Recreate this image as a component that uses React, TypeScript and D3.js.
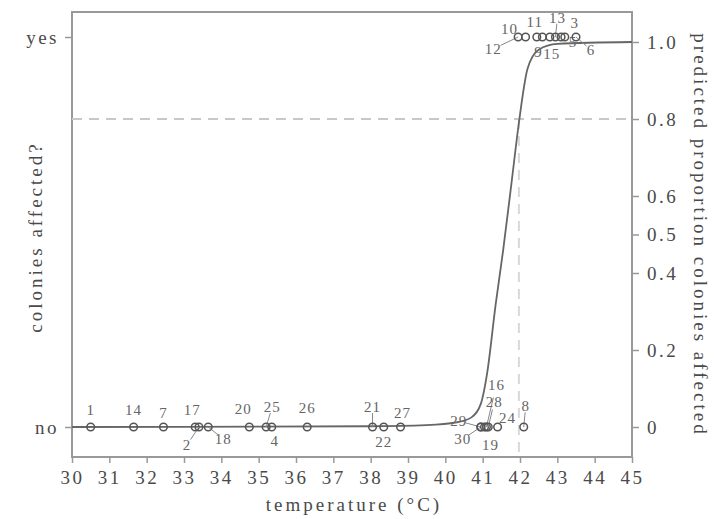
import React, { useEffect, useRef } from 'react';
import * as d3 from 'd3';

// colonies: id, temperature at which observed, affected (0 = no, 1 = yes)
const colonyIds = [1, 14, 7, 17, 2, 18, 20, 25, 4, 26, 21, 22, 27, 29, 30, 19, 16, 28, 24, 8,
    12, 10, 11, 9, 15, 13, 5, 3, 6];
const colonyTemps = [30.5, 31.65, 32.45, 33.3, 33.4, 33.65, 34.75, 35.2, 35.35, 36.3, 38.05, 38.35, 38.8,
    40.95, 40.95, 41.05, 41.1, 41.15, 41.4, 42.1,
    41.95, 42.15, 42.45, 42.6, 42.8, 42.95, 43.1, 43.2, 43.5];
const colonyAffected = [0, 0, 0, 0, 0, 0, 0, 0, 0, 0, 0, 0, 0, 0, 0, 0, 0, 0, 0, 0,
    1, 1, 1, 1, 1, 1, 1, 1, 1];

// fitted curve
const curveTemps = [30, 38, 39.5, 40.3, 40.7, 40.95, 41.12, 41.35, 41.55, 41.78, 41.97, 42.2, 42.5, 43, 45];
const curveProps = [0, 0.002, 0.005, 0.012, 0.025, 0.06, 0.14, 0.32, 0.46, 0.64, 0.79, 0.93, 0.98, 0.995, 1.0];

const xTicks = d3.range(30, 46);
const rightTicks = [0, 0.2, 0.4, 0.5, 0.6, 0.8, 1.0];
const threshold = 0.8;
const thresholdTemp = 41.97;

// label placement (layout only)
const labelOffsets: Record<number, [number, number]> = {
    1: [0, -17], 14: [0, -17], 7: [0, -14], 17: [-3, -17], 2: [-12, 18], 18: [15, 12],
    20: [-6, -18], 25: [6, -20], 4: [3, 14], 26: [0, -19], 21: [0, -20], 22: [0, 15], 27: [2, -14],
    29: [-22, -6], 30: [-18, 12], 19: [6, 18], 16: [10, -42], 28: [6, -25], 24: [10, -9], 8: [2, -21],
    12: [-25, 12], 10: [-16, -8], 11: [-2, -15], 9: [-4, 15], 15: [2, 17], 13: [2, -19],
    5: [12, 5], 3: [10, -14], 6: [15, 13],
};

const App = () => {
    const ref = useRef<SVGSVGElement>(null);

    useEffect(() => {
        const svg = d3.select(ref.current);
        svg.selectAll('*').remove();
        const width = 714;
        const height = 519;
        const left = 72, right = 632, top = 12, bottom = 457;
        const ink = '#4a4a4a';
        const font = '"Liberation Serif", "DejaVu Serif", serif';

        svg.attr('width', width).attr('height', height);

        const x = d3.scaleLinear().domain([30, 45]).range([left, right]);
        const yLeft = d3.scaleLinear().domain([0, 1]).range([427, 37]);
        const yRight = d3.scaleLinear().domain([0, 1]).range([427, 42]);

        // frame
        svg.append('rect')
            .attr('x', left).attr('y', top)
            .attr('width', right - left).attr('height', bottom - top)
            .attr('fill', 'none').attr('stroke', '#999').attr('stroke-width', 2);

        // threshold guides
        svg.append('line')
            .attr('x1', left).attr('x2', right)
            .attr('y1', yRight(threshold)).attr('y2', yRight(threshold))
            .attr('stroke', '#c8c8c8').attr('stroke-width', 2).attr('stroke-dasharray', '10,7');
        svg.append('line')
            .attr('x1', x(thresholdTemp)).attr('x2', x(thresholdTemp))
            .attr('y1', yRight(threshold)).attr('y2', bottom)
            .attr('stroke', '#d8d8d8').attr('stroke-width', 2).attr('stroke-dasharray', '10,7');

        // axes
        const styleAxis = (g: any) => {
            g.select('.domain').remove();
            g.selectAll('line').attr('stroke', '#999').attr('stroke-width', 1.5);
            g.selectAll('text').attr('fill', ink).style('font-family', font)
                .style('font-size', '19px').style('letter-spacing', '2.5px');
        };

        svg.append('g')
            .attr('transform', `translate(0,${bottom})`)
            .call(d3.axisBottom(x).tickValues(xTicks).tickSize(6).tickPadding(8).tickFormat(d3.format('d')))
            .call(styleAxis);

        svg.append('g')
            .attr('transform', `translate(${left},0)`)
            .call(d3.axisLeft(yLeft).tickValues([0, 1]).tickSize(7).tickPadding(6)
                .tickFormat((d: any) => (d === 1 ? 'yes' : 'no')))
            .call(styleAxis);

        svg.append('g')
            .attr('transform', `translate(${right},0)`)
            .call(d3.axisRight(yRight).tickValues(rightTicks).tickSize(7).tickPadding(8)
                .tickFormat((d: any) => (d === 0 ? '0' : d3.format('.1f')(d))))
            .call(styleAxis);

        // titles
        const title = (t: string, transform: string) =>
            svg.append('text')
                .attr('transform', transform)
                .attr('text-anchor', 'middle').attr('fill', ink)
                .style('font-family', font).style('font-size', '19px').style('letter-spacing', '3px')
                .text(t);
        title('temperature (°C)', 'translate(354,511)');
        title('colonies affected?', 'translate(42,237) rotate(-90)');
        title('predicted proportion colonies affected', 'translate(694,235) rotate(90)');

        // fitted curve
        const curve = d3.line<number>()
            .x((d) => x(curveTemps[d]))
            .y((d) => yRight(curveProps[d]))
            .curve(d3.curveMonotoneX);
        svg.append('path')
            .attr('d', curve(d3.range(curveTemps.length)))
            .attr('fill', 'none').attr('stroke', '#666').attr('stroke-width', 1.8);

        // colonies
        const colonies = colonyIds.map((id, i) => ({ id, t: colonyTemps[i], a: colonyAffected[i] }));
        const g = svg.append('g');
        colonies.forEach((c) => {
            const cx = x(c.t);
            const cy = yLeft(c.a);
            const [dx, dy] = labelOffsets[c.id] || [0, -16];
            if (Math.hypot(dx, dy) > 19) {
                g.append('line')
                    .attr('x1', cx).attr('y1', cy)
                    .attr('x2', cx + dx * 0.7).attr('y2', cy + dy * 0.7)
                    .attr('stroke', '#888').attr('stroke-width', 1);
            }
            g.append('circle')
                .attr('cx', cx).attr('cy', cy).attr('r', 3.8)
                .attr('fill', 'none').attr('stroke', '#555').attr('stroke-width', 1.5);
            g.append('text')
                .attr('x', cx + dx).attr('y', cy + dy)
                .attr('dy', '0.35em').attr('text-anchor', 'middle')
                .attr('fill', '#666')
                .style('font-family', font).style('font-size', '15px').style('letter-spacing', '1px')
                .text(c.id);
        });
    }, []);

    return <svg ref={ref} style={{ position: 'absolute', left: 0, top: 0 }} />;
};

export default App;
